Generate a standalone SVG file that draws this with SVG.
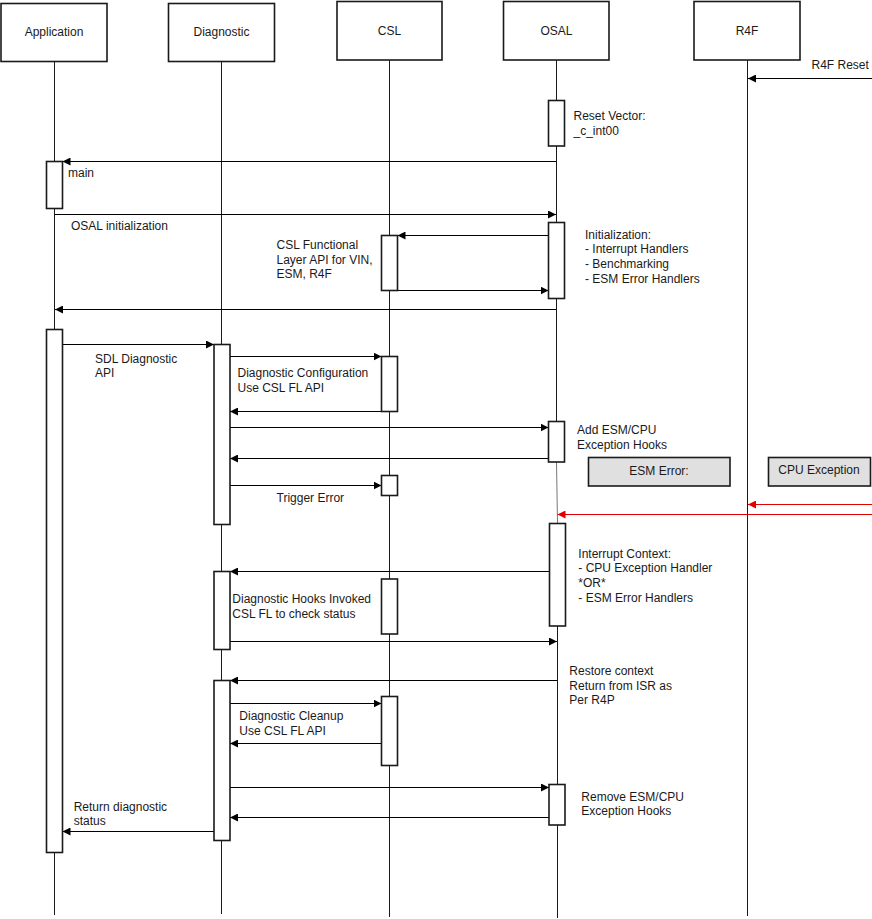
<svg xmlns="http://www.w3.org/2000/svg" width="872" height="919" viewBox="0 0 872 919">
<style>
text{font-family:"Liberation Sans",Arial,sans-serif;font-size:12px;fill:#1a1a1a}
.hdr{fill:#fff;stroke:#1a1a1a;stroke-width:1.6}
.act{fill:#fff;stroke:#1a1a1a;stroke-width:1.6}
.life{stroke:#1a1a1a;stroke-width:1;fill:none}
.msg{stroke:#000;stroke-width:1;fill:none;marker-end:url(#ah)}
.red{stroke:#e00000;stroke-width:1;fill:none;marker-end:url(#ahr)}
.note{fill:#e0e0e0;stroke:#1a1a1a;stroke-width:1.6}
.c{text-anchor:middle}
</style>
<defs>
<marker id="ah" markerWidth="9" markerHeight="8" refX="8" refY="4" orient="auto" markerUnits="userSpaceOnUse"><path d="M0,0 L8,4 L0,8 z" fill="#000"/></marker>
<marker id="ahr" markerWidth="9" markerHeight="8" refX="8" refY="4" orient="auto" markerUnits="userSpaceOnUse"><path d="M0,0 L8,4 L0,8 z" fill="#e00000"/></marker>
</defs>
<g id="lifelines">
<line class="life" x1="54.5" y1="62" x2="54.5" y2="915"/>
<line class="life" x1="221.5" y1="62" x2="221.5" y2="914"/>
<line class="life" x1="389.5" y1="60" x2="389.5" y2="917"/>
<line class="life" x1="556.5" y1="60" x2="556.5" y2="462"/>
<line x1="556.5" y1="462" x2="557.5" y2="523" stroke="#777" stroke-width="1"/>
<line class="life" x1="557.5" y1="523" x2="557.5" y2="918"/>
<line class="life" x1="747.5" y1="60" x2="747.5" y2="916"/>
</g>
<g id="Application"><rect class="hdr" x="1" y="3.5" width="106" height="58"/><text class="c" x="54" y="36">Application</text></g>
<g id="Diagnostic"><rect class="hdr" x="168.5" y="3.5" width="106" height="58"/><text class="c" x="221.5" y="36">Diagnostic</text></g>
<g id="CSL"><rect class="hdr" x="337" y="1.5" width="105" height="58.5"/><text class="c" x="389.5" y="35">CSL</text></g>
<g id="OSAL"><rect class="hdr" x="503.5" y="1.5" width="105.5" height="58.5"/><text class="c" x="556.5" y="35">OSAL</text></g>
<g id="R4F"><rect class="hdr" x="694" y="1.5" width="106" height="58.5"/><text class="c" x="747" y="35">R4F</text></g>
<g id="connectors">
<line class="msg" x1="872" y1="78.5" x2="748" y2="78.5"/>
<line class="msg" x1="556" y1="161.5" x2="62.5" y2="161.5"/>
<line class="msg" x1="54.5" y1="214.5" x2="556" y2="214.5"/>
<line class="msg" x1="548.5" y1="235.5" x2="397.5" y2="235.5"/>
<line class="msg" x1="397.5" y1="290.5" x2="548.5" y2="290.5"/>
<line class="msg" x1="556" y1="309.5" x2="55" y2="309.5"/>
<line class="msg" x1="62.5" y1="344.5" x2="214" y2="344.5"/>
<line class="msg" x1="230" y1="356.5" x2="381.5" y2="356.5"/>
<line class="msg" x1="381.5" y1="411.5" x2="230" y2="411.5"/>
<line class="msg" x1="230" y1="427.5" x2="548.5" y2="427.5"/>
<line class="msg" x1="548.5" y1="458.5" x2="230" y2="458.5"/>
<line class="msg" x1="230" y1="485.5" x2="381.5" y2="485.5"/>
<line class="red" x1="872" y1="504.5" x2="748" y2="504.5"/>
<line class="red" x1="872" y1="514.5" x2="557.5" y2="514.5"/>
<line class="msg" x1="549.5" y1="571.5" x2="230" y2="571.5"/>
<line class="msg" x1="230" y1="641.5" x2="557" y2="641.5"/>
<line class="msg" x1="557" y1="680.5" x2="230" y2="680.5"/>
<line class="msg" x1="230" y1="703.5" x2="381.5" y2="703.5"/>
<line class="msg" x1="381.5" y1="743.5" x2="230" y2="743.5"/>
<line class="msg" x1="230" y1="787.5" x2="549" y2="787.5"/>
<line class="msg" x1="549" y1="817.5" x2="230" y2="817.5"/>
<line class="msg" x1="214" y1="831.5" x2="62.5" y2="831.5"/>
</g>
<g id="activations">
<rect class="act" x="548.5" y="100.5" width="16" height="45.5"/>
<rect class="act" x="46.5" y="161.5" width="16" height="47"/>
<rect class="act" x="381.5" y="235.5" width="16" height="55"/>
<rect class="act" x="548.5" y="222.5" width="16" height="76"/>
<rect class="act" x="46.5" y="329.5" width="16" height="523"/>
<rect class="act" x="214" y="344.5" width="16" height="180"/>
<rect class="act" x="381.5" y="356.5" width="16" height="55"/>
<rect class="act" x="548.5" y="421.5" width="16" height="40.5"/>
<rect class="act" x="381.5" y="475.5" width="16" height="20"/>
<rect class="act" x="549.5" y="523.5" width="16" height="102.5"/>
<rect class="act" x="214" y="571.5" width="16" height="78"/>
<rect class="act" x="381.5" y="579" width="16" height="55"/>
<rect class="act" x="214" y="680.5" width="16" height="160"/>
<rect class="act" x="381.5" y="696.5" width="16" height="69"/>
<rect class="act" x="549" y="784.5" width="16" height="40.5"/>
</g>
<g id="notes">
<g id="esm-error"><rect class="note" x="588.5" y="457.5" width="141.5" height="28.5"/><text class="c" x="659" y="475">ESM Error:</text></g>
<g id="cpu-exception"><rect class="note" x="768.5" y="457.5" width="102" height="28.5"/><text class="c" x="819" y="474">CPU Exception</text></g>
</g>
<g id="labels">
<text x="811.5" y="69">R4F Reset</text>
<text x="573.5" y="120">Reset Vector:</text>
<text x="573.5" y="134.7">_c_int00</text>
<text x="68" y="177">main</text>
<text x="71" y="230">OSAL initialization</text>
<text x="276.5" y="249">CSL Functional</text>
<text x="276.5" y="263.7">Layer API for VIN,</text>
<text x="276.5" y="278.3">ESM, R4F</text>
<text x="585" y="238.7">Initialization:</text>
<text x="585" y="253.3">- Interrupt Handlers</text>
<text x="585" y="268">- Benchmarking</text>
<text x="585" y="282.7">- ESM Error Handlers</text>
<text x="95" y="362.7">SDL Diagnostic</text>
<text x="95" y="377.3">API</text>
<text x="237.5" y="377.3">Diagnostic Configuration</text>
<text x="237.5" y="392">Use CSL FL API</text>
<text x="577" y="434.3">Add ESM/CPU</text>
<text x="577" y="449">Exception Hooks</text>
<text x="276.5" y="501.7">Trigger Error</text>
<text x="578.3" y="557.7">Interrupt Context:</text>
<text x="578.3" y="572.3">- CPU Exception Handler</text>
<text x="578.3" y="587">*OR*</text>
<text x="578.3" y="601.7">- ESM Error Handlers</text>
<text x="232.3" y="603.3">Diagnostic Hooks Invoked</text>
<text x="232.3" y="617.7">CSL FL to check status</text>
<text x="569.3" y="675">Restore context</text>
<text x="569.3" y="689.7">Return from ISR as</text>
<text x="569.3" y="704.3">Per R4P</text>
<text x="239.3" y="720">Diagnostic Cleanup</text>
<text x="239.3" y="735">Use CSL FL API</text>
<text x="581.3" y="800.7">Remove ESM/CPU</text>
<text x="581.3" y="815.3">Exception Hooks</text>
<text x="73.7" y="810.7">Return diagnostic</text>
<text x="73.7" y="825">status</text>
</g>
</svg>
